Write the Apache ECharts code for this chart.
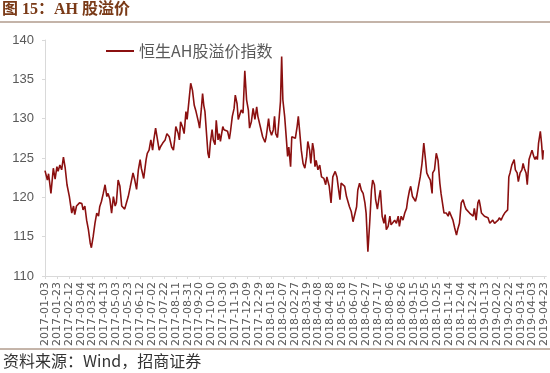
<!DOCTYPE html>
<html><head><meta charset="utf-8">
<script src="https://cdn.jsdelivr.net/npm/echarts@6/dist/echarts.min.js"></script>
<style>html,body{margin:0;padding:0;background:#fff;}#c{width:550px;height:373px;}</style>
</head><body><div id="c"></div>
<script>
// Chart text
const titleText = '图 15：AH 股溢价';
const sourceText = '资料来源：Wind，招商证券';
const seriesName = '恒生AH股溢价指数';
const startDate = '2017-01-03';
const dayCount = 844;          // calendar days on the category axis
const labelEvery = 20;         // a tick label every 20 calendar days
const yTicks = [110, 115, 120, 125, 130, 135, 140];

// Day offsets from 2017-01-03 and index values
const dayOffsets = [
0,4,6,10,14,17,20,22,25,28,31,34,37,41,45,48,50,53,58,62,64,67,70,73,76,78,81,84,87,90,
92,95,98,101,104,106,109,112,115,118,120,123,126,129,132,134,137,140,143,146,148,151,154,157,160,162,166,170,172,175,
178,181,183,186,189,192,194,198,202,205,209,213,216,218,220,224,226,228,231,234,237,239,242,245,248,251,254,258,260,263,
265,267,269,272,274,276,278,281,283,286,288,291,293,295,299,301,304,307,310,312,315,318,320,323,325,328,330,333,336,339,
342,344,347,350,353,356,358,362,366,370,372,376,378,381,384,386,388,391,394,396,398,400,403,406,408,410,413,415,418,421,
424,426,428,431,434,437,440,442,445,447,450,452,454,456,459,462,465,469,472,474,478,481,484,488,491,493,496,498,501,504,
507,510,512,515,518,521,524,526,529,532,535,538,540,543,546,549,551,554,556,559,562,564,567,570,572,574,577,580,582,585,
588,591,594,596,599,602,605,608,610,613,615,618,620,623,625,628,631,634,636,637,640,642,645,648,651,652,655,658,661,664,
666,669,671,675,678,680,683,686,689,692,694,697,700,703,706,708,711,714,717,720,722,725,728,730,732,734,736,739,742,745,
748,750,753,756,759,762,764,767,770,773,776,778,780,782,785,787,789,791,794,796,799,802,804,806,809,811,814,816,819,822,
824,826,828,830,833,835,837,838
];
const premiumIndex = [
123.4,122.2,123.0,120.5,123.7,122.3,123.9,123.3,124.1,123.5,125.1,123.7,121.6,120.1,118.0,118.9,117.8,118.9,119.3,119.2,118.4,118.9,117.1,115.9,114.2,113.6,115.0,116.7,118.0,117.6,
118.8,119.5,120.5,121.6,120.1,120.5,119.8,118.0,120.1,118.9,119.3,122.2,121.4,118.9,118.9,118.5,119.3,120.1,121.2,121.4,123.1,122.2,121.0,123.5,124.8,123.7,122.4,124.8,125.6,126.0,
127.3,126.0,127.3,128.8,129.0,126.0,126.4,126.9,127.3,128.1,127.7,126.4,126.0,127.3,129.0,128.1,127.3,129.6,129.0,128.1,130.9,129.9,132.2,134.5,133.6,131.7,130.9,129.6,128.8,131.3,
133.2,131.7,130.9,127.7,125.6,125.0,126.9,128.6,127.3,126.7,129.8,127.3,128.1,127.1,129.0,128.6,128.8,128.4,127.4,128.4,130.3,131.3,133.0,131.9,129.9,129.8,131.1,130.7,136.1,132.4,
131.1,128.8,129.6,131.3,129.9,131.5,130.3,129.0,127.7,127.0,127.7,130.0,128.6,127.9,128.6,130.3,128.1,127.6,130.3,132.2,137.9,132.4,130.3,127.3,125.2,126.4,123.9,127.7,127.9,127.5,
129.0,130.3,128.6,126.0,124.3,123.7,125.2,127.1,126.0,124.3,126.9,126.0,123.9,124.7,123.5,124.1,122.6,122.4,121.6,122.6,121.4,119.3,122.6,123.3,122.6,121.4,119.7,121.8,122.0,121.4,
120.1,120.3,118.8,118.2,116.9,116.9,118.8,120.9,121.8,120.9,120.5,119.3,118.0,113.1,116.7,120.9,122.2,121.6,119.7,118.5,120.1,120.9,117.6,116.7,117.8,115.9,116.3,117.6,116.5,116.7,
117.1,116.7,117.6,116.3,117.6,117.1,118.0,118.6,119.7,120.9,121.4,120.1,120.3,119.5,120.1,119.9,122.6,124.3,126.0,126.9,124.7,123.1,122.6,122.2,120.5,123.1,123.5,125.6,124.7,121.8,
120.5,120.3,118.0,118.0,117.6,118.2,118.0,117.1,116.1,115.2,115.9,116.7,119.3,119.7,118.9,118.5,118.5,118.0,118.2,117.6,118.6,117.1,119.3,119.7,118.9,118.0,118.2,117.6,117.8,117.4,
116.7,116.5,117.1,116.7,116.9,117.1,117.4,117.1,117.6,118.0,117.8,118.4,122.6,123.1,124.1,123.9,124.8,123.5,123.1,122.0,123.1,123.5,124.3,123.7,123.1,121.6,124.8,124.8,126.0,125.2,
124.8,125.2,124.8,126.9,128.4,126.9,124.8,126.0
];

// Build category labels (calendar days)
const categories = [];
(function(){
  const p = startDate.split('-').map(Number);
  const base = Date.UTC(p[0], p[1]-1, p[2]);
  for (let i = 0; i < dayCount; i++) {
    const d = new Date(base + i*86400000);
    const m = String(d.getUTCMonth()+1).padStart(2,'0');
    const dd = String(d.getUTCDate()).padStart(2,'0');
    categories.push(d.getUTCFullYear() + '-' + m + '-' + dd);
  }
})();
const seriesData = dayOffsets.map((d, i) => [d, premiumIndex[i]]);

const chart = echarts.init(document.getElementById('c'), null, {renderer: 'canvas'});
chart.setOption({
  animation: false,
  backgroundColor: '#ffffff',
  grid: {left: 45, right: 3, top: 40, bottom: 97, containLabel: false},
  legend: {
    left: 101, top: 38,
    itemWidth: 28, itemHeight: 2, icon: 'rect', itemGap: 6,
    textStyle: {fontSize: 16, color: '#595959', fontFamily: 'Noto Sans CJK SC, sans-serif'},
    data: [seriesName]
  },
  xAxis: {
    type: 'category',
    data: categories,
    boundaryGap: false,
    axisLine: {lineStyle: {color: '#d9d9d9', width: 1}},
    axisTick: {show: true, interval: function (idx) { return idx % labelEvery === 0; }, length: 3, lineStyle: {color: '#d9d9d9'}},
    axisLabel: {
      interval: function (idx) { return idx % labelEvery === 0; },
      rotate: 90, fontSize: 11, lineHeight: 8, hideOverlap: false,
      color: '#595959', fontFamily: 'DejaVu Sans, sans-serif', margin: 6}
  },
  yAxis: {
    type: 'value',
    min: yTicks[0], max: yTicks[yTicks.length-1], interval: 5,
    axisLine: {show: true, lineStyle: {color: '#d9d9d9'}},
    axisTick: {show: true, length: 3, lineStyle: {color: '#d9d9d9'}},
    splitLine: {show: false},
    axisLabel: {fontSize: 13, color: '#595959', margin: 11, fontFamily: 'Liberation Sans, Arial, sans-serif'}
  },
  series: [{
    name: seriesName,
    type: 'line',
    data: seriesData,
    showSymbol: false,
    symbol: 'none',
    lineStyle: {color: '#8b1010', width: 1.6},
    itemStyle: {color: '#8b1010'}
  }],
  graphic: [
    {type: 'text', left: 2, top: 2, style: {text: titleText, fill: '#7a3a17',
      font: 'bold 16px "Liberation Serif", "Noto Sans CJK SC", serif'}},
    {type: 'line', shape: {x1: 0, y1: 22, x2: 550, y2: 22}, style: {stroke: '#8a6a55', lineWidth: 1.2}},
    {type: 'line', shape: {x1: 0, y1: 349, x2: 550, y2: 349}, style: {stroke: '#8a6a55', lineWidth: 1}},
    {type: 'text', left: 3, top: 353, style: {text: sourceText, fill: '#333333',
      font: '16px "Noto Sans CJK SC", sans-serif'}}
  ]
});
</script>
</body></html>
